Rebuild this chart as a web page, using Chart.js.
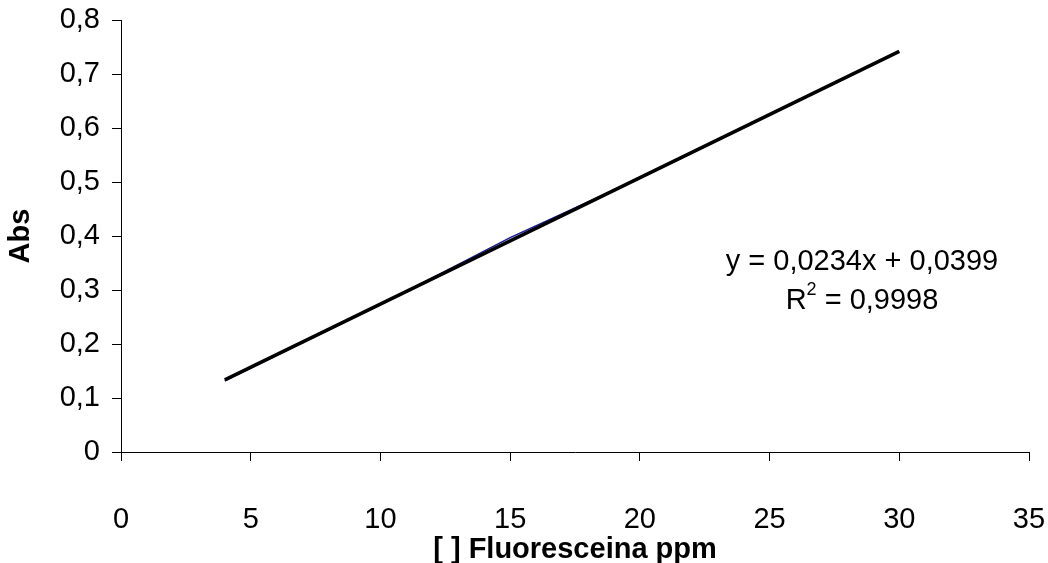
<!DOCTYPE html>
<html>
<head>
<meta charset="utf-8">
<script src="https://cdn.jsdelivr.net/npm/chart.js@4.4.1/dist/chart.umd.min.js"></script>
<style>
  html, body { margin: 0; padding: 0; background: #fff; }
  #wrap { width: 1048px; height: 563px; }
</style>
</head>
<body>
<div id="wrap"><canvas id="c" width="1048" height="563"></canvas></div>
<script>
// Measured data series (Fluoresceina ppm vs Abs)
const concX = [4, 10, 15, 20, 30];
const absY = [0.132, 0.273, 0.397, 0.507, 0.741];
// Linear trendline endpoints
const trendX = [4, 30];
const trendY = [0.1335, 0.7419];
// Axis ticks / labels
const xTicks = [0, 5, 10, 15, 20, 25, 30, 35];
const yTicks = [0, 0.1, 0.2, 0.3, 0.4, 0.5, 0.6, 0.7, 0.8];
const equationText = 'y = 0,0234x + 0,0399';
const r2Label = 'R';
const r2Value = ' = 0,9998';
const xTitle = '[ ] Fluoresceina ppm';
const yTitle = 'Abs';

const FONT = "'Liberation Sans', Arial, sans-serif";

const dataPts = concX.map((x, i) => ({ x: x, y: absY[i] }));
const trendPts = trendX.map((x, i) => ({ x: x, y: trendY[i] }));

const eqPlugin = {
  id: 'eq',
  afterDatasetsDraw(chart) {
    const ctx = chart.ctx;
    const cx = 862;
    ctx.save();
    ctx.fillStyle = '#000';
    ctx.textBaseline = 'middle';
    ctx.textAlign = 'center';
    ctx.font = '29px ' + FONT;
    ctx.fillText(equationText, cx, 262);
    const wR = ctx.measureText(r2Label).width;
    ctx.font = '18px ' + FONT;
    const w2 = ctx.measureText('2').width;
    ctx.font = '29px ' + FONT;
    const wV = ctx.measureText(r2Value).width;
    const total = wR + w2 + wV;
    const x0 = cx - total / 2;
    ctx.textAlign = 'left';
    ctx.fillText(r2Label, x0, 301);
    ctx.font = '18px ' + FONT;
    ctx.fillText('2', x0 + wR, 290);
    ctx.font = '29px ' + FONT;
    ctx.fillText(r2Value, x0 + wR + w2, 301);
    ctx.restore();
  }
};

new Chart(document.getElementById('c'), {
  type: 'scatter',
  data: {
    datasets: [
      {
        label: 'Abs',
        data: dataPts,
        showLine: true,
        borderColor: '#1a1a99',
        borderWidth: 1.5,
        pointRadius: 0,
        fill: false,
        order: 2
      },
      {
        label: 'Lineal',
        data: trendPts,
        showLine: true,
        borderColor: '#000',
        borderWidth: 3.5,
        pointRadius: 0,
        fill: false,
        order: 1
      }
    ]
  },
  plugins: [eqPlugin],
  options: {
    responsive: false,
    animation: false,
    devicePixelRatio: 1,
    layout: { padding: { top: 20, right: 19, bottom: 0, left: 0 } },
    plugins: {
      legend: { display: false },
      tooltip: { enabled: false }
    },
    scales: {
      x: {
        type: 'linear',
        min: 0,
        max: 35,
        afterBuildTicks(scale) { scale.ticks = xTicks.map(v => ({ value: v })); },
        afterFit(scale) { scale.height = 111; scale.paddingLeft = 0; scale.paddingRight = 0; },
        ticks: {
          color: '#000',
          font: { family: FONT, size: 29 },
          padding: 42,
          maxRotation: 0,
          callback: v => String(v)
        },
        grid: { drawOnChartArea: false, drawTicks: true, tickLength: 9, color: '#000', lineWidth: 1 },
        border: { display: true, color: '#000', width: 1 },
        title: {
          display: true,
          text: xTitle,
          color: '#000',
          font: { family: FONT, size: 29, weight: 'bold', lineHeight: 0.9 },
          padding: { top: 0, bottom: 0 }
        }
      },
      y: {
        type: 'linear',
        min: 0,
        max: 0.8,
        afterBuildTicks(scale) { scale.ticks = yTicks.map(v => ({ value: v })); },
        afterFit(scale) { scale.width = 121; scale.paddingTop = 0; scale.paddingBottom = 0; },
        ticks: {
          color: '#000',
          font: { family: FONT, size: 29 },
          padding: 12,
          callback: v => String(Math.round(v * 10) / 10).replace('.', ',')
        },
        grid: { drawOnChartArea: false, drawTicks: true, tickLength: 9, color: '#000', lineWidth: 1 },
        border: { display: true, color: '#000', width: 1 },
        title: {
          display: true,
          text: yTitle,
          color: '#000',
          font: { family: FONT, size: 29, weight: 'bold' },
          padding: { top: 4, bottom: 0 }
        }
      }
    }
  }
});
</script>
</body>
</html>
